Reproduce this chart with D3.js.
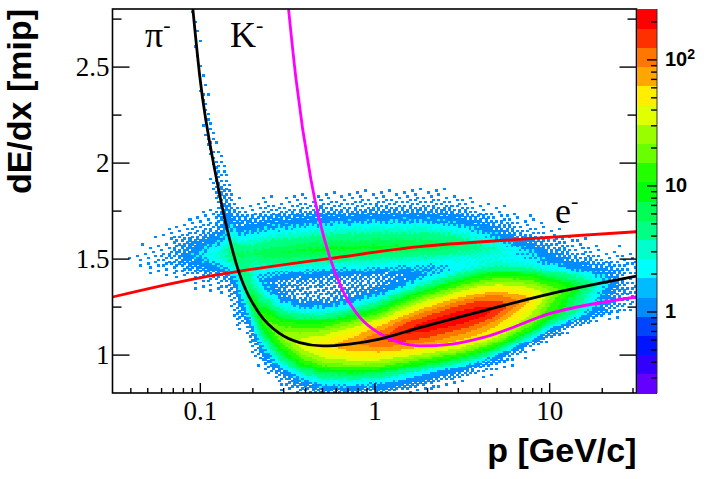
<!DOCTYPE html>
<html><head><meta charset="utf-8">
<script src="https://cdn.jsdelivr.net/npm/d3@7"></script>
<style>body{margin:0;background:#fff}svg{display:block}</style>
</head><body>
<svg id="c" width="706" height="479"></svg>
<script>
// ---------------- data ----------------
const pDomain = [Math.pow(10, -1.5), Math.pow(10, 1.5)];   // p [GeV/c], log axis
const dedxDomain = [0.8, 2.8];                              // dE/dx [mip]
const zDomain = [0.2255, 251];                              // colour axis, log
const nContours = 20;

const xTickValues = [0.1, 1, 10];
const xTickLabels = ["0.1", "1", "10"];
const yTickValues = [1, 1.5, 2, 2.5];
const yTickLabels = ["1", "1.5", "2", "2.5"];
const yMinorValues = [1.25, 1.75, 2.25, 2.75];
const zTickValues = [1, 10, 100];
const zTickLabels = ["1", "10", "10^2"];

// expected dE/dx curves
const pionCurveP = [0.0912, 0.1, 0.125, 0.166, 0.2205, 0.286, 0.373, 0.505, 0.72, 1.07, 1.81, 4.35, 10.4, 31.6];
const pionCurveV = [2.8, 2.447, 1.909, 1.44, 1.21, 1.11, 1.062, 1.045, 1.055, 1.081, 1.14, 1.232, 1.319, 1.409];
const kaonCurveP = [0.322, 0.354, 0.433, 0.553, 0.656, 0.82, 1.07, 1.39, 1.81, 2.79, 4.35, 10.4, 31.6];
const kaonCurveV = [2.8, 2.447, 1.909, 1.51, 1.336, 1.197, 1.11, 1.062, 1.045, 1.055, 1.093, 1.217, 1.30];
const elecCurveP = [0.0316, 0.1, 0.17, 0.553, 1.81, 6.7, 31.6];
const elecCurveV = [1.30, 1.40, 1.435, 1.50, 1.562, 1.60, 1.64];

// populated bands of the histogram: log10 of peak counts per bin, widths (below / above centre) in dE/dx
const pionBandP     = [0.08, 0.09, 0.1, 0.11, 0.125, 0.15, 0.17, 0.2, 0.25, 0.3, 0.4, 0.5, 0.7, 1.0, 1.5, 2, 3, 4, 5, 6, 8, 10, 13, 16, 21, 28];
const pionBandPeak  = [-3.0, -1.3, -1.0, -0.8, -0.5, 0.0, 0.45, 0.9, 1.2, 1.35, 1.6, 1.72, 1.88, 2.05, 2.25, 2.32, 2.36, 2.33, 2.22, 2.05, 1.75, 1.4, 1.05, 0.75, 0.2, -0.6];
const pionBandWidth = [0.5, 0.5, 0.45, 0.4, 0.35, 0.28, 0.22, 0.17, 0.16, 0.155, 0.15, 0.15, 0.15, 0.15, 0.15, 0.15, 0.15, 0.15, 0.148, 0.145, 0.14, 0.13, 0.125, 0.12, 0.12, 0.12];

const upperBandP       = [0.035, 0.05, 0.07, 0.1, 0.15, 0.25, 0.5, 1.0, 2.0, 3.0, 5.0, 8.0, 12, 20];
const upperBandCenter  = [1.50, 1.50, 1.51, 1.52, 1.52, 1.53, 1.55, 1.56, 1.57, 1.57, 1.55, 1.53, 1.52, 1.50];
const upperBandPeak    = [-1.4, -0.8, -0.35, 0.2, 0.6, 0.85, 0.9, 0.9, 0.85, 0.75, 0.45, 0.05, -0.4, -1.0];
const upperBandWidthLo = [0.14, 0.14, 0.14, 0.14, 0.14, 0.14, 0.14, 0.14, 0.14, 0.14, 0.14, 0.14, 0.13, 0.13];
const upperBandWidthHi = [0.17, 0.17, 0.17, 0.17, 0.17, 0.17, 0.17, 0.17, 0.17, 0.165, 0.16, 0.155, 0.15, 0.15];

const kaonBandP     = [0.9, 1.2, 1.5, 2, 3, 5, 8, 12, 20, 30];
const kaonBandPeak  = [-3.0, -0.3, 0.5, 0.9, 1.2, 1.25, 1.05, 0.6, -0.1, -0.6];
const kaonBandWidth = [0.09, 0.09, 0.09, 0.09, 0.09, 0.09, 0.09, 0.09, 0.09, 0.09];

const nBinsP = 200, nBinsV = 200;

// ---------------- drawing ----------------
const svg = d3.select("#c");
const L = 112.5, R = 636.5, T = 9, B = 393;
const x = d3.scaleLog().domain(pDomain).range([L, R]);
const y = d3.scaleLinear().domain(dedxDomain).range([B, T]);
const z = d3.scaleLog().domain(zDomain).range([B, T]);

function paletteColor(k) {
  const idx = Math.floor((k + 0.99) * 50 / nContours);
  return d3.hsl(280 - (idx + 1) * 5.6, 1, 0.5).formatRgb();
}
const lz0 = Math.log10(zDomain[0]), lz1 = Math.log10(zDomain[1]);
function zColor(n) {
  let k = Math.floor(nContours * (Math.log10(n) - lz0) / (lz1 - lz0));
  k = Math.max(0, Math.min(nContours - 1, k));
  return paletteColor(k);
}
function interp(ps, vs) {
  const s = d3.scaleLinear().domain(ps.map(Math.log10)).range(vs).clamp(true);
  return p => s(Math.log10(p));
}
const bands = [
  {c: interp(pionCurveP, pionCurveV), pk: interp(pionBandP, pionBandPeak),
   wl: interp(pionBandP, pionBandWidth), wh: interp(pionBandP, pionBandWidth), e: 1.5},
  {c: interp(upperBandP, upperBandCenter), pk: interp(upperBandP, upperBandPeak),
   wl: interp(upperBandP, upperBandWidthLo), wh: interp(upperBandP, upperBandWidthHi), e: 1.3},
  {c: interp(kaonCurveP, kaonCurveV), pk: interp(kaonBandP, kaonBandPeak),
   wl: interp(kaonBandP, kaonBandWidth), wh: interp(kaonBandP, kaonBandWidth), e: 2}
];
// interleaved-gradient dither threshold used to round expected counts to integer counts
function dither(i, j) {
  const f = (0.06711056 * i + 0.00583715 * j) % 1;
  return (52.9829189 * f) % 1;
}

const lpA = Math.log10(pDomain[0]), lpB = Math.log10(pDomain[1]);
const dlp = (lpB - lpA) / nBinsP, dv = (dedxDomain[1] - dedxDomain[0]) / nBinsV;
const cells = [];
for (let i = 0; i < nBinsP; i++) {
  const lp = lpA + (i + 0.5) * dlp, p = Math.pow(10, lp);
  const bp = bands.map(b => ({c: b.c(p), pk: b.pk(p), wl: b.wl(p), wh: b.wh(p), e: b.e}));
  for (let j = 0; j < nBinsV; j++) {
    const v = dedxDomain[0] + (j + 0.5) * dv;
    let m = 0;
    for (const b of bp) {
      const w = v < b.c ? b.wl : b.wh;
      m += Math.pow(10, b.pk - Math.pow(Math.abs(v - b.c) / w, b.e));
    }
    if (m < 0.05) continue;
    const n = Math.floor(m + dither(i, j));
    if (n >= 1) cells.push({i, j, n});
  }
}

const defs = svg.append("defs");
defs.append("clipPath").attr("id", "fr").append("rect")
  .attr("x", L).attr("y", T).attr("width", R - L).attr("height", B - T);

const gH = svg.append("g").attr("clip-path", "url(#fr)").attr("shape-rendering", "crispEdges");
gH.selectAll("rect").data(cells).join("rect")
  .attr("x", d => x(Math.pow(10, lpA + d.i * dlp)))
  .attr("width", d => x(Math.pow(10, lpA + (d.i + 1) * dlp)) - x(Math.pow(10, lpA + d.i * dlp)) + 0.4)
  .attr("y", d => y(dedxDomain[0] + (d.j + 1) * dv))
  .attr("height", d => y(dedxDomain[0] + d.j * dv) - y(dedxDomain[0] + (d.j + 1) * dv) + 0.4)
  .attr("fill", d => zColor(d.n));

// curves
const line = d3.line().x(d => x(d[0])).y(d => y(d[1])).curve(d3.curveMonotoneX);
const gC = svg.append("g").attr("clip-path", "url(#fr)").attr("fill", "none").attr("stroke-width", 2.8);
gC.append("path").attr("d", line(elecCurveP.map((p, k) => [p, elecCurveV[k]]))).attr("stroke", "#ff0000");
gC.append("path").attr("d", line(kaonCurveP.map((p, k) => [p, kaonCurveV[k]]))).attr("stroke", "#ff00ff");
gC.append("path").attr("d", line(pionCurveP.map((p, k) => [p, pionCurveV[k]]))).attr("stroke", "#000000");

// axes
const serif = "'Liberation Serif','Times New Roman',serif";
const sans = "'Liberation Sans',Arial,Helvetica,sans-serif";
const minorX = [];
for (let d = -2; d <= 1; d++) for (let m = 2; m <= 9; m++) {
  const val = m * Math.pow(10, d);
  if (val > pDomain[0] && val < pDomain[1]) minorX.push(val);
}
function styleAxis(g) {
  g.select(".domain").remove();
  g.selectAll(".tick line").attr("stroke", "#000").attr("stroke-width", 1.4);
}
svg.append("g").attr("transform", `translate(0,${B})`)
  .call(d3.axisBottom(x).tickValues(minorX).tickSize(-5).tickFormat(""))
  .call(styleAxis);
svg.append("g").attr("transform", `translate(0,${B})`)
  .call(d3.axisBottom(x).tickValues(xTickValues).tickSize(-10).tickPadding(8)
    .tickFormat((d, k) => xTickLabels[k]))
  .call(styleAxis)
  .call(g => g.selectAll("text").attr("font-family", serif).attr("font-size", 27).attr("fill", "#000"));

svg.append("g").attr("transform", `translate(${L},0)`)
  .call(d3.axisLeft(y).tickValues(yMinorValues).tickSize(-9).tickFormat(""))
  .call(styleAxis);
svg.append("g").attr("transform", `translate(${L},0)`)
  .call(d3.axisLeft(y).tickValues(yTickValues).tickSize(-17).tickPadding(3)
    .tickFormat((d, k) => yTickLabels[k]))
  .call(styleAxis)
  .call(g => g.selectAll("text").attr("font-family", serif).attr("font-size", 27).attr("fill", "#000"));
svg.append("g").attr("transform", `translate(${R},0)`)
  .call(d3.axisRight(y).tickValues(yMinorValues).tickSize(-9).tickFormat(""))
  .call(styleAxis);
svg.append("g").attr("transform", `translate(${R},0)`)
  .call(d3.axisRight(y).tickValues(yTickValues).tickSize(-17).tickFormat(""))
  .call(styleAxis);

// frame
svg.append("rect").attr("x", L).attr("y", T).attr("width", R - L).attr("height", B - T)
  .attr("fill", "none").attr("stroke", "#000").attr("stroke-width", 1.6);

// colour bar
const CB0 = 637, CB1 = 657;
const levels = d3.range(nContours).map(k => ({
  k, lo: Math.pow(10, lz0 + k * (lz1 - lz0) / nContours), hi: Math.pow(10, lz0 + (k + 1) * (lz1 - lz0) / nContours)
}));
svg.append("g").attr("shape-rendering", "crispEdges").selectAll("rect").data(levels).join("rect")
  .attr("x", CB0).attr("width", CB1 - CB0)
  .attr("y", d => z(d.hi)).attr("height", d => z(d.lo) - z(d.hi) + 0.5)
  .attr("fill", d => paletteColor(d.k));
const minorZ = [];
for (let d = -1; d <= 2; d++) for (let m = 2; m <= 9; m++) {
  const val = m * Math.pow(10, d);
  if (val > zDomain[0] && val < zDomain[1]) minorZ.push(val);
}
svg.append("g").attr("transform", `translate(${CB1},0)`)
  .call(d3.axisRight(z).tickValues(minorZ).tickSize(-6).tickFormat(""))
  .call(styleAxis);
const zAx = svg.append("g").attr("transform", `translate(${CB1},0)`)
  .call(d3.axisRight(z).tickValues(zTickValues).tickSize(-10).tickPadding(8)
    .tickFormat((d, k) => zTickLabels[k]))
  .call(styleAxis);
zAx.selectAll("text").attr("font-family", sans).attr("font-weight", "bold").attr("font-size", 20).attr("fill", "#000")
  .each(function(d, k) {
    const s = zTickLabels[k];
    if (s.indexOf("^") >= 0) {
      const [base, ex] = s.split("^");
      const t = d3.select(this).text(base);
      t.append("tspan").attr("dy", "-0.55em").attr("font-size", 14).text(ex);
    }
  });
svg.append("line").attr("x1", CB1).attr("x2", CB1).attr("y1", T).attr("y2", B)
  .attr("stroke", "#333").attr("stroke-width", 1);

// titles
svg.append("text").attr("x", R).attr("y", 462).attr("text-anchor", "end")
  .attr("font-family", sans).attr("font-weight", "bold").attr("font-size", 34).text("p [GeV/c]");
svg.append("text").attr("transform", `translate(31,${T}) rotate(-90)`).attr("text-anchor", "end")
  .attr("font-family", sans).attr("font-weight", "bold").attr("font-size", 34).text("dE/dx [mip]");

// particle labels
function particle(xp, yp, base) {
  const t = svg.append("text").attr("x", xp).attr("y", yp).attr("font-family", serif).attr("font-size", 36).text(base);
  t.append("tspan").attr("dy", -15).attr("font-size", 22).text("-");
}
particle(145, 47, "π");
particle(230, 47, "K");
particle(555, 223, "e");
</script>
</body></html>
